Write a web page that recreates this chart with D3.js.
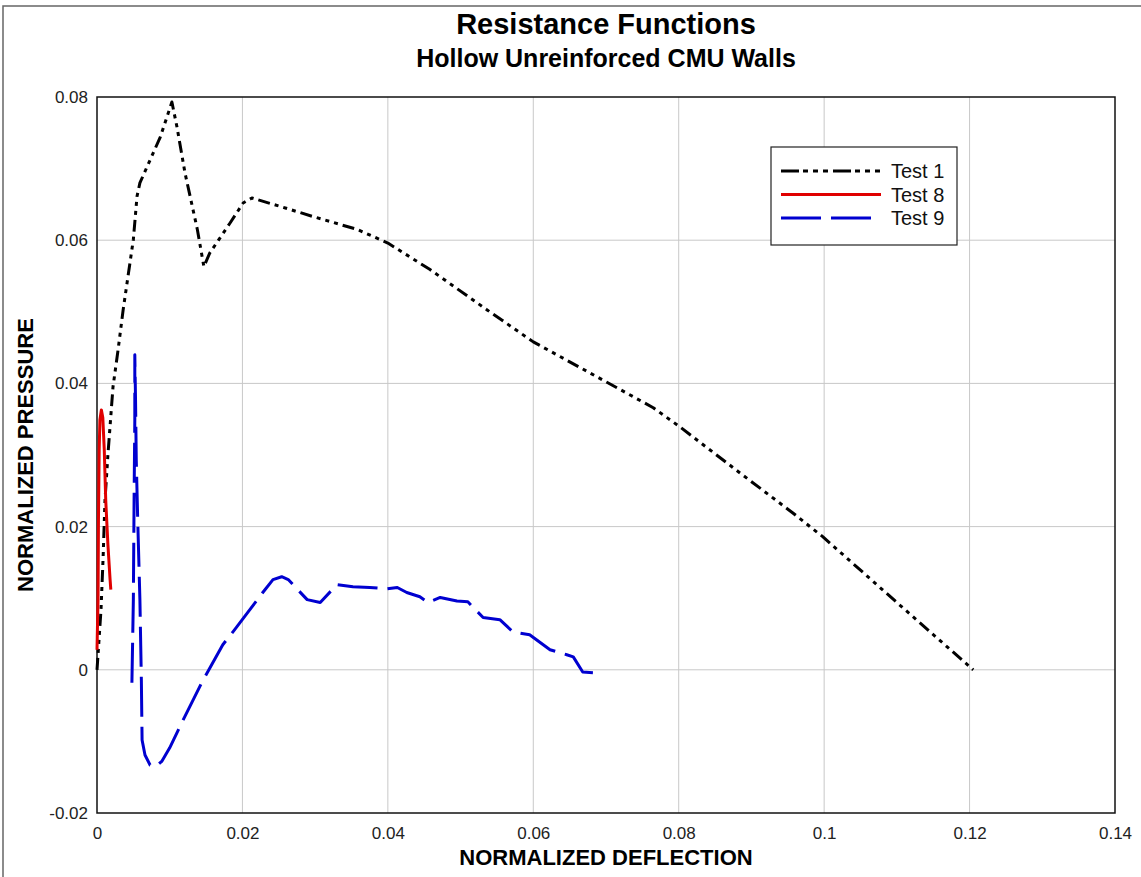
<!DOCTYPE html>
<html>
<head>
<meta charset="utf-8">
<script src="https://cdn.jsdelivr.net/npm/d3@7"></script>
<style>
  body { margin: 0; background: #fff; }
  svg { display: block; font-family: "Liberation Sans", Arial, sans-serif; }
</style>
</head>
<body>
<div id="chart"></div>
<script>
// --- DATA ---
const xTicks = [0, 0.02, 0.04, 0.06, 0.08, 0.1, 0.12, 0.14];
const yTicks = [-0.02, 0, 0.02, 0.04, 0.06, 0.08];

const test1X = [0, 0.00014, 0.00055, 0.00083, 0.0011, 0.0015, 0.0022, 0.0029, 0.0036, 0.0043, 0.0050, 0.0055, 0.0059, 0.0073, 0.0087, 0.0103, 0.0110, 0.0121, 0.0138, 0.0147, 0.0155, 0.0183, 0.0201, 0.0213, 0.0259, 0.0297, 0.0358, 0.0400, 0.0458, 0.0536, 0.0600, 0.0688, 0.0765, 0.0802, 0.0888, 0.0957, 0.0998, 0.1100, 0.1205];
const test1Y = [0, 0.0021, 0.0084, 0.0154, 0.0237, 0.0300, 0.0395, 0.0447, 0.0503, 0.0552, 0.0601, 0.0661, 0.0680, 0.0712, 0.0744, 0.0793, 0.0758, 0.0694, 0.0615, 0.0563, 0.0582, 0.0624, 0.0652, 0.0659, 0.0645, 0.0633, 0.0615, 0.0596, 0.0559, 0.0503, 0.0458, 0.0409, 0.0366, 0.0339, 0.0272, 0.0219, 0.0186, 0.0094, 0.0];

const test8X = [0, 0.00014, 0.0002, 0.0003, 0.0004, 0.0006, 0.0008, 0.0010, 0.0012, 0.0015, 0.0018, 0.0019];
const test8Y = [0.0028, 0.0098, 0.0209, 0.0307, 0.0349, 0.0363, 0.0352, 0.0307, 0.0237, 0.0175, 0.0126, 0.0112];

const test9X = [0.0048, 0.0050, 0.0051, 0.0052, 0.0052, 0.0053, 0.0054, 0.0056, 0.0059, 0.0061, 0.0062, 0.0066, 0.0073, 0.0081, 0.0089, 0.0100, 0.0118, 0.0144, 0.0173, 0.0187, 0.0228, 0.0242, 0.0254, 0.0263, 0.0289, 0.0307, 0.0330, 0.0352, 0.0375, 0.0399, 0.0413, 0.0426, 0.0444, 0.0455, 0.0472, 0.0495, 0.0510, 0.0531, 0.0554, 0.0572, 0.0595, 0.0623, 0.0646, 0.0655, 0.0668, 0.0682];
const test9Y = [-0.0018, 0.0098, 0.0237, 0.0349, 0.0440, 0.0377, 0.0293, 0.0209, 0.0098, -0.0014, -0.0098, -0.0119, -0.0133, -0.0135, -0.0128, -0.0109, -0.0071, -0.0018, 0.0035, 0.0053, 0.0108, 0.0126, 0.0130, 0.0126, 0.0098, 0.0094, 0.0119, 0.0116, 0.0115, 0.0113, 0.0115, 0.0108, 0.0102, 0.0094, 0.0101, 0.0096, 0.0095, 0.0073, 0.0070, 0.0053, 0.0049, 0.0028, 0.0021, 0.0018, -0.0003, -0.0004];

const seriesNames = ["Test 1", "Test 8", "Test 9"];

// --- SETUP ---
const W = 1141, H = 877;
const margin = {top: 97, right: 26, bottom: 64, left: 97};

const svg = d3.select("#chart").append("svg")
    .attr("width", W)
    .attr("height", H);

// outer frame
svg.append("rect")
    .attr("x", 3).attr("y", 6)
    .attr("width", W + 10).attr("height", H + 10)
    .attr("fill", "none")
    .attr("stroke", "#666")
    .attr("stroke-width", 1.5);

const x = d3.scaleLinear().domain([0, 0.14]).range([margin.left, W - margin.right]);
const y = d3.scaleLinear().domain([-0.02, 0.08]).range([H - margin.bottom, margin.top]);

// gridlines
svg.append("g")
    .selectAll("line")
    .data(xTicks.slice(1, -1))
    .enter().append("line")
    .attr("x1", d => x(d)).attr("x2", d => x(d))
    .attr("y1", y(0.08)).attr("y2", y(-0.02))
    .attr("stroke", "#c8c8c8").attr("stroke-width", 1);

svg.append("g")
    .selectAll("line")
    .data(yTicks.slice(1, -1))
    .enter().append("line")
    .attr("x1", x(0)).attr("x2", x(0.14))
    .attr("y1", d => y(d)).attr("y2", d => y(d))
    .attr("stroke", "#c8c8c8").attr("stroke-width", 1);

// tick labels (axes without tick marks)
const xAxis = svg.append("g")
    .attr("transform", `translate(0,${y(-0.02)})`)
    .call(d3.axisBottom(x).tickValues(xTicks).tickSize(0).tickPadding(14).tickFormat(d => String(+d.toFixed(2))));
xAxis.select(".domain").remove();
xAxis.selectAll("text").attr("font-size", 17).attr("fill", "#222").attr("font-family", "Liberation Sans, Arial, sans-serif");

const yAxis = svg.append("g")
    .attr("transform", `translate(${x(0)},0)`)
    .call(d3.axisLeft(y).tickValues(yTicks).tickSize(0).tickPadding(9).tickFormat(d => String(+d.toFixed(2))));
yAxis.select(".domain").remove();
yAxis.selectAll("text").attr("font-size", 17).attr("fill", "#222").attr("font-family", "Liberation Sans, Arial, sans-serif");

// plot border
svg.append("rect")
    .attr("x", x(0)).attr("y", y(0.08))
    .attr("width", x(0.14) - x(0)).attr("height", y(-0.02) - y(0.08))
    .attr("fill", "none").attr("stroke", "#111").attr("stroke-width", 1.5);

// --- SERIES ---
const line = d3.line().x(d => x(d[0])).y(d => y(d[1]));
const series = [
    {name: "Test 1", pts: d3.zip(test1X, test1Y), color: "#000", dash: "12,5,4,5,4,5,4,5"},
    {name: "Test 8", pts: d3.zip(test8X, test8Y), color: "#e00000", dash: null},
    {name: "Test 9", pts: d3.zip(test9X, test9Y), color: "#0000d0", dash: "40,10"}
];

svg.append("g")
    .selectAll("path")
    .data(series)
    .enter().append("path")
    .attr("d", d => line(d.pts))
    .attr("fill", "none")
    .attr("stroke", d => d.color)
    .attr("stroke-width", 3)
    .attr("stroke-linejoin", "round")
    .attr("stroke-dasharray", d => d.dash);

// --- LEGEND ---
const legend = svg.append("g").attr("transform", "translate(771,147)");
legend.append("rect")
    .attr("width", 186).attr("height", 98)
    .attr("fill", "#fff").attr("stroke", "#222").attr("stroke-width", 1.2);

const items = legend.selectAll(".item")
    .data(series)
    .enter().append("g")
    .attr("transform", (d, i) => `translate(0,${24 + i * 23.5})`);

items.append("line")
    .attr("x1", 10).attr("x2", 110)
    .attr("stroke", d => d.color)
    .attr("stroke-width", 3)
    .attr("stroke-dasharray", d => d.name === "Test 1" ? "18,4,5,5,5,5,5,5" : d.dash);

items.append("text")
    .attr("x", 120).attr("dy", "0.35em")
    .attr("font-size", 20).attr("fill", "#111")
    .text((d, i) => seriesNames[i]);

// --- TITLES ---
svg.append("text")
    .attr("x", (x(0) + x(0.14)) / 2).attr("y", 34)
    .attr("text-anchor", "middle")
    .attr("font-size", 29).attr("font-weight", "bold")
    .text("Resistance Functions");

svg.append("text")
    .attr("x", (x(0) + x(0.14)) / 2).attr("y", 67)
    .attr("text-anchor", "middle")
    .attr("font-size", 25).attr("font-weight", "bold")
    .text("Hollow Unreinforced CMU Walls");

svg.append("text")
    .attr("x", (x(0) + x(0.14)) / 2).attr("y", 865)
    .attr("text-anchor", "middle")
    .attr("font-size", 22).attr("font-weight", "bold")
    .text("NORMALIZED DEFLECTION");

svg.append("text")
    .attr("transform", `translate(33,${(y(0.08) + y(-0.02)) / 2}) rotate(-90)`)
    .attr("text-anchor", "middle")
    .attr("font-size", 22).attr("font-weight", "bold")
    .text("NORMALIZED PRESSURE");
</script>
</body>
</html>
